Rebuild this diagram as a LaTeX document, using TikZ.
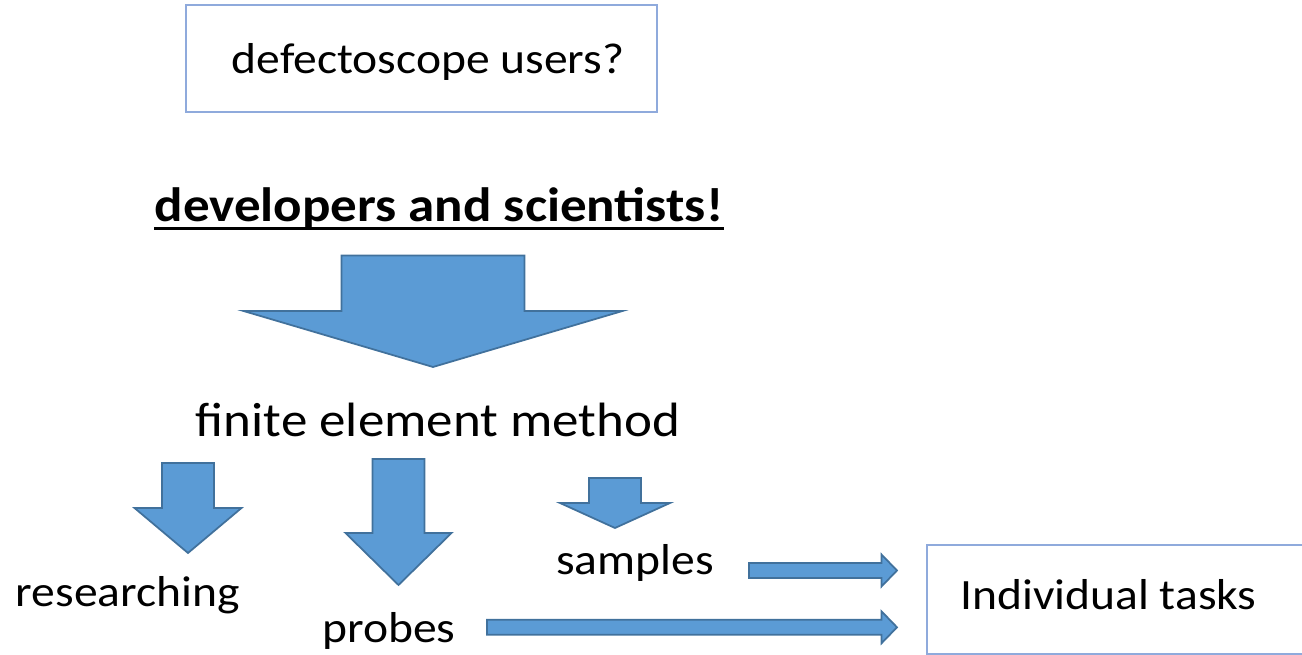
\documentclass[tikz,border=0pt]{standalone}
\usepackage{fontspec}
\setmainfont[FakeStretch=1.1]{Carlito}
\usepackage{tikz}
\usetikzlibrary{calc}
\definecolor{arrowfill}{RGB}{91,155,213}
\definecolor{arrowedge}{RGB}{65,113,156}
\definecolor{boxedge}{RGB}{143,170,220}
\tikzset{
	blockarrow/.style={fill=arrowfill, draw=arrowedge, line width=0.5pt, line join=miter},
	framebox/.style={draw=boxedge, line width=0.6pt},
	bigtext/.style={inner sep=0pt, anchor=base, font=\fontsize{13.7pt}{16pt}\selectfont},
	smalltext/.style={inner sep=0pt, anchor=base, font=\fontsize{12.3pt}{15pt}\selectfont}
}
% block arrow down: centre x, top, shaft half width, shoulder, head half width, tip
\newcommand{\blockdown}[6]{%
	\draw[blockarrow] (#1-#3,#2) -- (#1+#3,#2) -- (#1+#3,#4) -- (#1+#5,#4)
	-- (#1,#6) -- (#1-#5,#4) -- (#1-#3,#4) -- cycle;}
% block arrow right: start x, tip x, centre y
\newcommand{\blockright}[3]{%
	\draw[blockarrow] (#1,#3-7.5) -- (#2-15.5,#3-7.5) -- (#2-15.5,#3-16) -- (#2,#3)
	-- (#2-15.5,#3+16) -- (#2-15.5,#3+7.5) -- (#1,#3+7.5) -- cycle;}

\begin{document}
\begin{tikzpicture}[x=0.01cm, y=-0.01cm]
	\useasboundingbox (0,0) rectangle (1302,655);
	
	% question
	\draw[framebox] (186,5) rectangle (657,112);
	\node[smalltext] (users) at (428,74) {defectoscope users?};
	
	% answer
	\node[bigtext] (devs) at (439,221.7) {\bfseries developers and scientists!};
	\draw[line width=0.85pt] ($(devs.base west)+(0,6.6)$) -- ($(devs.base east)+(0,6.6)$);
	\blockdown{433}{255.5}{91.5}{311}{189.5}{367}
	\node[bigtext] (fem) at (438,436.7) {finite element method};
	
	% branches
	\blockdown{188}{463}{26}{508}{53.5}{553}
	\blockdown{398.5}{459}{26}{533}{53}{585}
	\blockdown{615}{478}{26}{503}{55}{528}
	\node[smalltext] (research) at (128,606.7) {researching};
	\node[smalltext] (probes) at (389,643) {probes};
	\node[smalltext] (samples) at (635,575) {samples};
	
	% tasks
	\draw[framebox] (927,545) rectangle (1320,654);
	\node[smalltext] (tasks) at (1108.5,610) {Individual tasks};
	\blockright{749}{897}{570.5}
	\blockright{487}{897}{627.3}
\end{tikzpicture}
\end{document}
